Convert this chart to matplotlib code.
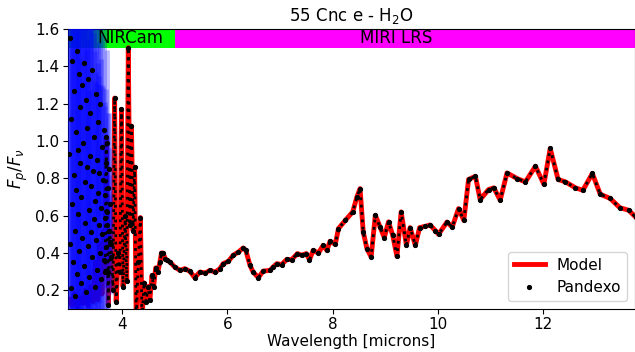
import numpy as np
import matplotlib
matplotlib.use("Agg")
import matplotlib.pyplot as plt

# model spectrum nodes (wavelength in microns, Fp/Fv)
model_wl = [3.00, 3.05, 3.10, 3.15, 3.20, 3.25, 3.30, 3.35, 3.40, 3.45, 3.50, 3.54, 3.58, 3.62, 3.65,
            3.68, 3.70, 3.72, 3.74, 3.76, 3.79, 3.83, 3.86, 3.89, 3.93, 3.96, 3.99, 4.02, 4.06, 4.09,
            4.12, 4.15, 4.18, 4.21, 4.24, 4.27, 4.31, 4.35, 4.38, 4.42, 4.46, 4.49, 4.53, 4.57, 4.60,
            4.64, 4.68, 4.72, 4.75, 4.78, 4.82, 4.86,
            4.91, 5.00, 5.10, 5.19, 5.29, 5.38, 5.48, 5.58, 5.67, 5.77, 5.86, 5.92, 6.02, 6.11, 6.21,
            6.30, 6.35, 6.43, 6.49, 6.59, 6.68, 6.81, 6.87, 6.94, 7.03, 7.13, 7.22, 7.33, 7.41, 7.50,
            7.56, 7.63, 7.73, 7.82, 7.89, 7.95, 8.05, 8.11, 8.24, 8.38, 8.46, 8.52, 8.58, 8.65, 8.73,
            8.81, 8.90, 8.98, 9.06, 9.14, 9.22, 9.30, 9.40, 9.47, 9.57, 9.65, 9.76, 9.85, 9.95, 10.01,
            10.17, 10.27, 10.39, 10.49, 10.58, 10.71, 10.80, 10.96, 11.06, 11.18, 11.31, 11.50, 11.66,
            11.85, 12.01, 12.13, 12.28, 12.42, 12.61, 12.75, 12.93, 13.08, 13.27, 13.45, 13.62, 13.75]
model_flux = [0.15, 0.12, 0.18, 0.11, 0.16, 0.13, 0.20, 0.12, 0.22, 0.14, 0.35, 0.15, 0.45, 0.18, 0.52,
              0.30, 1.02, 0.55, 0.12, 0.52, 0.45, 0.20, 1.23, 0.14, 0.40, 0.30, 1.17, 0.22, 0.60, 0.25,
              1.50, 0.55, 1.08, 0.52, 0.86, 0.05, 0.35, 0.59, 0.05, 0.24, 0.14, 0.22, 0.15, 0.28, 0.22,
              0.32, 0.30, 0.35, 0.40, 0.40, 0.37, 0.36,
              0.352, 0.325, 0.307, 0.316, 0.302, 0.268, 0.298, 0.293, 0.307, 0.298, 0.316, 0.343, 0.355, 0.388, 0.405,
              0.427, 0.415, 0.334, 0.298, 0.268, 0.303, 0.307, 0.325, 0.343, 0.338, 0.366, 0.364, 0.397, 0.388, 0.397,
              0.364, 0.414, 0.400, 0.441, 0.414, 0.463, 0.447, 0.531, 0.575, 0.620, 0.700, 0.745, 0.513, 0.424, 0.379,
              0.602, 0.539, 0.483, 0.567, 0.495, 0.382, 0.620, 0.441, 0.536, 0.441, 0.536, 0.543, 0.550, 0.520, 0.500,
              0.566, 0.539, 0.638, 0.575, 0.794, 0.811, 0.686, 0.740, 0.749, 0.683, 0.829, 0.799, 0.781,
              0.865, 0.768, 0.960, 0.794, 0.781, 0.749, 0.736, 0.826, 0.715, 0.692, 0.643, 0.629, 0.593]

# noisy Pandexo points at the short-wavelength end
nir_wl = [3.00, 3.01, 3.02, 3.03, 3.04, 3.05, 3.06, 3.07, 3.08, 3.09,
          3.10, 3.11, 3.12, 3.13, 3.14, 3.15, 3.16, 3.17, 3.18, 3.19,
          3.20, 3.21, 3.22, 3.23, 3.24, 3.25, 3.26, 3.27, 3.28, 3.29,
          3.30, 3.31, 3.32, 3.33, 3.34, 3.35, 3.36, 3.37, 3.38, 3.39,
          3.40, 3.41, 3.42, 3.43, 3.44, 3.45, 3.46, 3.47, 3.48, 3.49,
          3.50, 3.51, 3.52, 3.53, 3.54, 3.55, 3.56, 3.57, 3.58, 3.59,
          3.60, 3.61, 3.62, 3.63, 3.64, 3.65, 3.66, 3.67, 3.68, 3.69,
          3.70, 3.71, 3.72, 3.73, 3.74, 3.75, 3.76, 3.77, 3.78, 3.79]
nir_flux = [0.93, 0.45, 1.55, 0.21, 1.12, 0.66, 1.43, 0.35, 0.82, 1.27,
            0.52, 0.17, 1.05, 0.74, 1.48, 0.29, 0.95, 0.61, 1.36, 0.41,
            0.88, 1.18, 0.24, 0.70, 1.30, 0.48, 0.99, 0.33, 1.42, 0.78,
            0.56, 1.22, 0.19, 0.86, 1.07, 0.44, 1.33, 0.63, 0.27, 0.92,
            1.15, 0.51, 0.76, 1.38, 0.38, 0.84, 0.58, 1.02, 0.22, 0.68,
            1.25, 0.47, 0.90, 0.31, 0.72, 1.10, 0.55, 0.83, 0.40, 1.20,
            0.64, 0.26, 0.97, 0.50, 0.79, 1.06, 0.36, 0.71, 0.59, 0.88,
            0.43, 0.99, 0.62, 0.30, 0.75, 0.52, 0.85, 0.46, 0.66, 0.38]
nir_err = [1.6, 1.4, 1.7, 1.5, 1.3, 1.6, 1.5, 1.4, 1.7, 1.5,
           1.3, 1.6, 1.4, 1.5, 1.7, 1.3, 1.5, 1.4, 1.6, 1.4,
           1.3, 1.5, 1.2, 1.4, 1.3, 1.5, 1.2, 1.4, 1.3, 1.2,
           1.4, 1.1, 1.3, 1.2, 1.4, 1.1, 1.3, 1.2, 1.0, 1.3,
           1.1, 1.2, 1.0, 1.1, 0.9, 1.1, 1.0, 0.9, 1.1, 0.8,
           1.0, 0.9, 0.8, 1.0, 0.7, 0.9, 0.8, 0.7, 0.9, 0.6,
           0.8, 0.7, 0.6, 0.8, 0.5, 0.7, 0.6, 0.5, 0.6, 0.4,
           0.5, 0.5, 0.4, 0.35, 0.4, 0.3, 0.3, 0.25, 0.3, 0.2]

bands = ["NIRCam", "MIRI LRS"]
band_ranges = [(2.4, 5.0), (5.0, 14.0)]
band_colors = ["#00ff00", "#ff00ff"]
band_text_x = [4.15, 9.2]

fig = plt.figure(figsize=(6.35, 3.52), dpi=100)
ax = fig.add_axes([68/635, 43/352, 567/635, 280/352])

for (lo, hi), col, name, tx in zip(band_ranges, band_colors, bands, band_text_x):
    ax.fill_between([lo, hi], 1.5, 1.6, color=col, lw=0, zorder=1)
    ax.text(tx, 1.55, name, ha='center', va='center', fontsize=12, zorder=6)

ax.plot(model_wl, model_flux, color='red', lw=3.5, label='Model', zorder=2)

ax.errorbar(nir_wl, nir_flux, yerr=nir_err, fmt='none', ecolor='blue', elinewidth=3.5, alpha=0.25, zorder=3)

# Pandexo bins that sit on the model past ~3.7 micron
mw = np.array(model_wl)
mf = np.array(model_flux)
on = mw >= 3.68
ax.plot(mw[on], mf[on], ls=':', color='k', lw=2.0, zorder=4)
pw = np.concatenate([nir_wl, mw[on]])
pf = np.concatenate([nir_flux, mf[on]])
ax.plot(pw, pf, '.', color='k', ms=5.5, label='Pandexo', zorder=5)

ax.set_xlim(2.975, 13.74)
ax.set_ylim(0.1, 1.6)
ax.tick_params(labelsize=11, pad=2.5)
ax.set_xlabel('Wavelength [microns]', fontsize=11, labelpad=1)
ax.set_ylabel(r'$F_p/F_\nu$', fontsize=12)
ax.set_title(r'55 Cnc e - H$_2$O', fontsize=12)
ax.legend(loc='lower right', fontsize=11)

plt.savefig('out.png', dpi=100)
